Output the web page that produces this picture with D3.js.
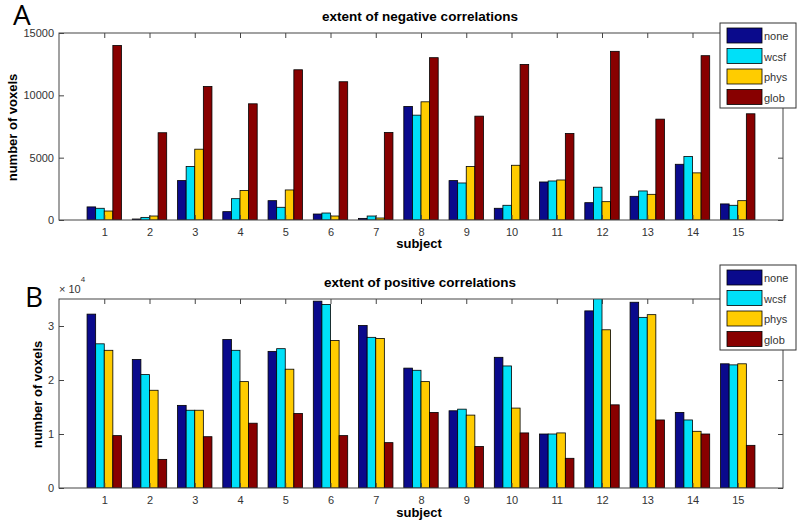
<!DOCTYPE html>
<html>
<head>
<meta charset="utf-8">
<script src="https://cdn.jsdelivr.net/npm/d3@7"></script>
<style>
  body { margin: 0; background: #fff; }
  svg { display: block; font-family: "Liberation Sans", Arial, sans-serif; }
  .tick text { fill: #333; font-size: 11px; }
  .axis path, .axis line { stroke: #444; }
</style>
</head>
<body>
<div id="chart"></div>
<script>
const subjects = ["1","2","3","4","5","6","7","8","9","10","11","12","13","14","15"];
const seriesNames = ["none", "wcsf", "phys", "glob"];
const colors = ["#0a0a8c", "#00e0f8", "#ffcc00", "#880000"];

// panel A: extent of negative correlations
const negNone = [1050, 80, 3160, 670, 1550, 480, 130, 9110, 3160, 940, 3050, 1390, 1900, 4470, 1290];
const negWcsf = [940, 210, 4290, 1710, 1020, 560, 320, 8410, 2970, 1180, 3130, 2630, 2330, 5090, 1180];
const negPhys = [720, 320, 5680, 2360, 2410, 320, 160, 9480, 4290, 4390, 3210, 1470, 2060, 3780, 1550];
const negGlob = [14000, 7000, 10710, 9320, 12050, 11090, 7020, 13020, 8330, 12480, 6940, 13530, 8090, 13180, 8520];
const negTicks = [0, 5000, 10000, 15000];

// panel B: extent of positive correlations
const posNone = [32200, 23800, 15300, 27500, 25300, 34600, 30100, 22200, 14300, 24200, 10000, 32800, 34400, 14000, 23000];
const posWcsf = [26700, 21000, 14400, 25500, 25800, 34000, 27900, 21800, 14600, 22600, 10000, 36000, 31600, 12600, 22800];
const posPhys = [25500, 18100, 14400, 19700, 22000, 27300, 27700, 19700, 13500, 14800, 10200, 29300, 32100, 10500, 23000];
const posGlob = [9700, 5300, 9500, 12000, 13800, 9700, 8400, 14000, 7700, 10200, 5500, 15400, 12600, 10000, 7900];
const posTicks = [0, 10000, 20000, 30000];

const W = 800, H = 524;
const svg = d3.select("#chart").append("svg").attr("width", W).attr("height", H);

const drawPanel = cfg => {
  const x = d3.scaleLinear().domain([0, 16]).range([59, 783]);
  const y = d3.scaleLinear().domain([0, cfg.ymax]).range([cfg.bottom, cfg.top]);
  const step = x(1) - x(0);
  const bw = step * 0.19;

  const g = svg.append("g");

  const clipId = "clip" + cfg.letter;
  g.append("clipPath").attr("id", clipId)
    .append("rect").attr("x", x(0)).attr("y", cfg.top)
    .attr("width", x(16) - x(0)).attr("height", cfg.bottom - cfg.top);

  const rows = subjects.map((s, i) => ({ s: +s, vals: cfg.series.map(a => a[i]) }));
  const bars = g.append("g").attr("clip-path", `url(#${clipId})`);
  rows.forEach(r => {
    r.vals.forEach((v, k) => {
      bars.append("rect")
        .attr("x", x(r.s) - 2 * bw + k * bw)
        .attr("y", y(v))
        .attr("width", bw)
        .attr("height", y(0) - y(v))
        .attr("fill", colors[k])
        .attr("stroke", "#000")
        .attr("stroke-width", 0.8);
    });
  });

  const tickVals = subjects.map(Number);
  g.append("g").attr("class", "axis")
    .attr("transform", `translate(0,${cfg.bottom})`)
    .call(d3.axisBottom(x).tickValues(tickVals).tickFormat((d, i) => subjects[i]).tickSizeInner(-5).tickSizeOuter(0).tickPadding(8));
  g.append("g").attr("class", "axis")
    .attr("transform", `translate(0,${cfg.top})`)
    .call(d3.axisTop(x).tickValues(tickVals).tickFormat("").tickSizeInner(-5).tickSizeOuter(0));
  g.append("g").attr("class", "axis")
    .attr("transform", `translate(${x(0)},0)`)
    .call(d3.axisLeft(y).tickValues(cfg.yticks).tickFormat(cfg.fmt).tickSizeInner(-5).tickSizeOuter(0).tickPadding(5));
  g.append("g").attr("class", "axis")
    .attr("transform", `translate(${x(16)},0)`)
    .call(d3.axisRight(y).tickValues(cfg.yticks).tickFormat("").tickSizeInner(-5).tickSizeOuter(0));
  g.selectAll(".axis .domain").remove();

  g.append("rect")
    .attr("x", x(0)).attr("y", cfg.top)
    .attr("width", x(16) - x(0)).attr("height", cfg.bottom - cfg.top)
    .attr("fill", "none").attr("stroke", "#444").attr("stroke-width", 1);

  g.append("text")
    .attr("x", (x(0) + x(16)) / 2 - 1).attr("y", cfg.top - 12)
    .attr("text-anchor", "middle")
    .attr("font-size", 13.5).attr("font-weight", "bold")
    .text(cfg.title);

  g.append("text")
    .attr("x", (x(0) + x(16)) / 2 - 2).attr("y", cfg.bottom + cfg.subjOffset)
    .attr("text-anchor", "middle")
    .attr("font-size", 13).attr("font-weight", "bold")
    .text("subject");

  g.append("text")
    .attr("transform", `translate(${cfg.ylabelX},${(cfg.top + cfg.bottom) / 2 + 1}) rotate(-90)`)
    .attr("text-anchor", "middle")
    .attr("font-size", 13).attr("font-weight", "bold")
    .text("number of voxels");

  g.append("text")
    .attr("x", cfg.letterX).attr("y", cfg.letterY)
    .attr("font-size", 28)
    .attr("font-family", "'Open Sans', 'DejaVu Sans', sans-serif")
    .text(cfg.letter);

  if (cfg.exponent) {
    const ex = g.append("text").attr("x", 59).attr("y", cfg.top - 6)
      .attr("font-size", 11).attr("fill", "#333");
    ex.append("tspan").text("\u00d7 10");
    ex.append("tspan").attr("dy", -11).attr("font-size", 8).text(cfg.exponent);
  }

  // legend
  const lg = g.append("g").attr("transform", `translate(720,${cfg.legendTop})`);
  lg.append("rect").attr("width", 76).attr("height", 85)
    .attr("fill", "#fff").attr("stroke", "#333").attr("stroke-width", 1);
  seriesNames.forEach((n, k) => {
    lg.append("rect")
      .attr("x", 7).attr("y", 5 + k * 20.5)
      .attr("width", 35).attr("height", 15)
      .attr("fill", colors[k]).attr("stroke", "#000").attr("stroke-width", 0.8);
    lg.append("text")
      .attr("x", 44).attr("y", 17 + k * 20.5)
      .attr("font-size", 11).attr("fill", "#333")
      .text(n);
  });
};

drawPanel({
  letter: "A", letterX: 13, letterY: 25,
  top: 33, bottom: 220, ymax: 15000, yticks: negTicks, fmt: d3.format("d"),
  title: "extent of negative correlations",
  series: [negNone, negWcsf, negPhys, negGlob],
  ylabelX: 17, legendTop: 23, subjOffset: 28
});

drawPanel({
  letter: "B", letterX: 25, letterY: 307,
  top: 299, bottom: 488, ymax: 35000, yticks: posTicks, fmt: d => d / 10000,
  exponent: "4",
  title: "extent of positive correlations",
  series: [posNone, posWcsf, posPhys, posGlob],
  ylabelX: 42, legendTop: 265, subjOffset: 29
});
</script>
</body>
</html>
